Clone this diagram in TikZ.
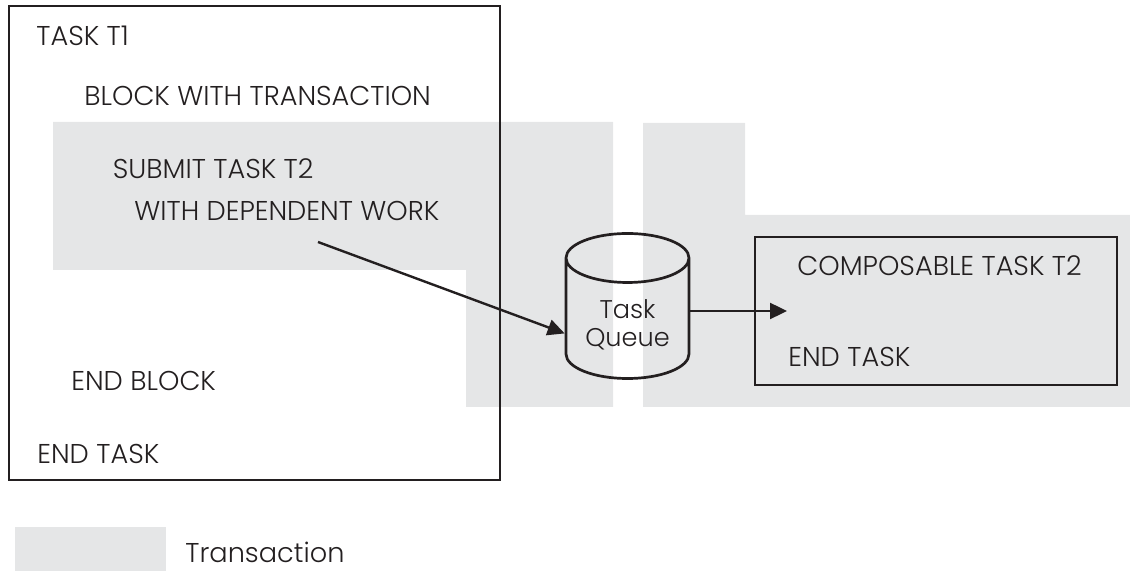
\documentclass[tikz,border=0pt]{standalone}
\usepackage{fontspec}
\setmainfont{Poppins}[UprightFont={* Light}]
\usetikzlibrary{shapes.geometric,arrows.meta}
\definecolor{txgray}{RGB}{229,230,231}
\definecolor{ink}{RGB}{35,31,32}
\tikzset{
    label text/.style={anchor=west, inner sep=0pt, text=ink, font=\fontsize{13.6}{16}\selectfont},
    frame box/.style={draw=ink, line width=1.35pt},
    flow arrow/.style={draw=ink, line width=1.2pt, -{Triangle[length=8.5pt,width=8pt]}},
    queue/.style={shape=cylinder, shape border rotate=90, aspect=0.58, draw=ink, line width=1.35pt,
            minimum width=61.5pt, minimum height=72.5pt, inner sep=0pt, align=center,
            text height=28pt, text depth=-7.5pt, anchor=shape center,
            text=ink, font=\fontsize{12.8}{14.2}\selectfont},
}

\begin{document}
\begin{tikzpicture}[x=0.5pt, y=-0.5pt]
    \useasboundingbox (0,0) rectangle (1130,571);
    %draw transaction areas
    \fill[txgray] (53,122) -- (613,122) -- (613,407) -- (466,407) -- (466,270) -- (53,270) -- cycle;
    \fill[txgray] (643,123) -- (745,123) -- (745,215) -- (1130,215) -- (1130,407) -- (643,407) -- cycle;
    %draw task boxes
    \draw[frame box] (9,6) rectangle (500,480);
    \draw[frame box] (755,237) rectangle (1117,385);
    %task T1
    \node[label text] (t1) at (36,36) {TASK T1};
    \node[label text] (block) at (84,96) {BLOCK WITH TRANSACTION};
    \node[label text] (submit) at (112.5,169) {SUBMIT TASK T2};
    \node[label text] (work) at (134,211) {WITH DEPENDENT WORK};
    \node[label text] (endblock) at (71,381) {END BLOCK};
    \node[label text] (endtask) at (37,454) {END TASK};
    %task queue
    \node[queue] (queue) at (627.5,306) {Task\\Queue};
    %task T2
    \node[label text] (composable) at (797,266) {COMPOSABLE TASK T2};
    \node[label text] (endtasktwo) at (788,357) {END TASK};
    %draw arrows
    \coordinate (workout) at (318,242);
    \coordinate (tasktwoin) at (787,311);
    \draw[flow arrow] (workout) -- (queue.193);
    \draw[flow arrow] (queue.east |- tasktwoin) -- (tasktwoin);
    %legend
    \fill[txgray] (15,527) rectangle (166,571);
    \node[label text] (legend) at (185,552) {Transaction};
\end{tikzpicture}
\end{document}
